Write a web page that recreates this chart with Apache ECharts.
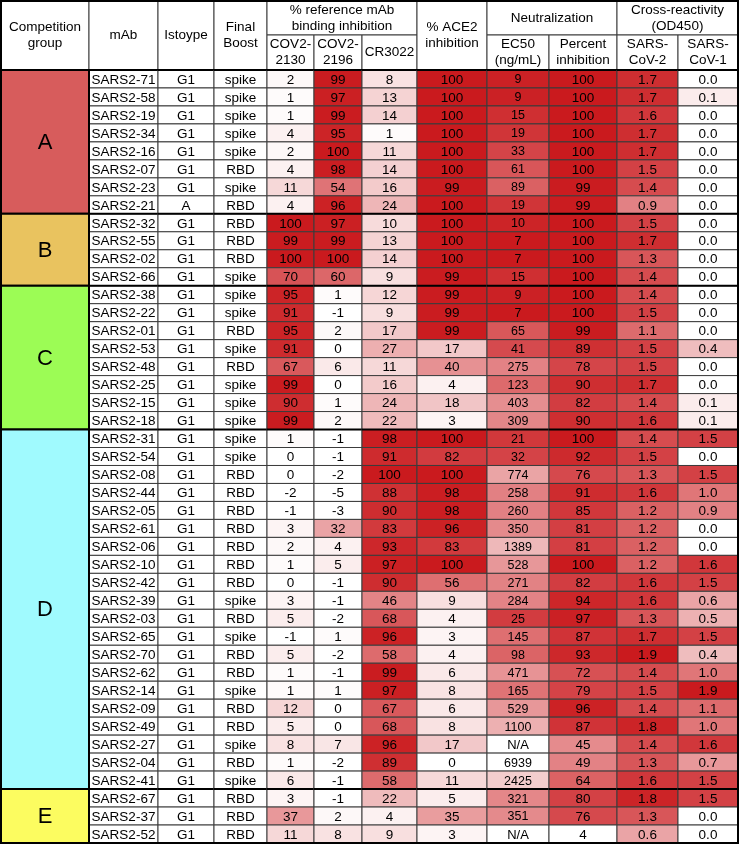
<!DOCTYPE html>
<html>
<head>
<meta charset="utf-8">
<script src="https://cdn.jsdelivr.net/npm/echarts@6/dist/echarts.min.js"></script>
<style>
html, body { margin: 0; padding: 0; background: #fff; }
#chart { width: 739px; height: 847px; }
</style>
</head>
<body>
<div id="chart"></div>
<script>
// ---- data ----
const groupNames = ['A', 'B', 'C', 'D', 'E'];
const groupSizes = [8, 4, 8, 20, 3];

const mAbs = [
  'SARS2-71', 'SARS2-58', 'SARS2-19', 'SARS2-34', 'SARS2-16', 'SARS2-07', 'SARS2-23', 'SARS2-21',
  'SARS2-32', 'SARS2-55', 'SARS2-02', 'SARS2-66',
  'SARS2-38', 'SARS2-22', 'SARS2-01', 'SARS2-53', 'SARS2-48', 'SARS2-25', 'SARS2-15', 'SARS2-18',
  'SARS2-31', 'SARS2-54', 'SARS2-08', 'SARS2-44', 'SARS2-05', 'SARS2-61', 'SARS2-06', 'SARS2-10',
  'SARS2-42', 'SARS2-39', 'SARS2-03', 'SARS2-65', 'SARS2-70', 'SARS2-62', 'SARS2-14', 'SARS2-09',
  'SARS2-49', 'SARS2-27', 'SARS2-04', 'SARS2-41',
  'SARS2-67', 'SARS2-37', 'SARS2-52'
];
const isotype = [
  'G1', 'G1', 'G1', 'G1', 'G1', 'G1', 'G1', 'A',
  'G1', 'G1', 'G1', 'G1',
  'G1', 'G1', 'G1', 'G1', 'G1', 'G1', 'G1', 'G1',
  'G1', 'G1', 'G1', 'G1', 'G1', 'G1', 'G1', 'G1', 'G1', 'G1',
  'G1', 'G1', 'G1', 'G1', 'G1', 'G1', 'G1', 'G1', 'G1', 'G1',
  'G1', 'G1', 'G1'
];
const finalBoost = [
  'spike', 'spike', 'spike', 'spike', 'spike', 'RBD', 'spike', 'RBD',
  'RBD', 'RBD', 'RBD', 'spike',
  'spike', 'spike', 'RBD', 'spike', 'RBD', 'spike', 'spike', 'spike',
  'spike', 'spike', 'RBD', 'RBD', 'RBD', 'RBD', 'RBD', 'RBD', 'RBD', 'spike',
  'RBD', 'spike', 'RBD', 'RBD', 'spike', 'RBD', 'RBD', 'spike', 'RBD', 'spike',
  'RBD', 'RBD', 'RBD'
];
const cov2130 = [
  2, 1, 1, 4, 2, 4, 11, 4,
  100, 99, 100, 70,
  95, 91, 95, 91, 67, 99, 90, 99,
  1, 0, 0, -2, -1, 3, 2, 1, 0, 3, 5, -1, 5, 1, 1, 12, 5, 8, 1, 6,
  3, 37, 11
];
const cov2196 = [
  99, 97, 99, 95, 100, 98, 54, 96,
  97, 99, 100, 60,
  1, -1, 2, 0, 6, 0, 1, 2,
  -1, -1, -2, -5, -3, 32, 4, 5, -1, -1, -2, 1, -2, -1, 1, 0, 0, 7, -2, -1,
  -1, 2, 8
];
const cr3022 = [
  8, 13, 14, 1, 11, 14, 16, 24,
  10, 13, 14, 9,
  12, 9, 17, 27, 11, 16, 24, 22,
  98, 91, 100, 88, 90, 83, 93, 97, 90, 46, 68, 96, 58, 99, 97, 67, 68, 96, 89, 58,
  22, 4, 9
];
const ace2 = [
  100, 100, 100, 100, 100, 100, 99, 100,
  100, 100, 100, 99,
  99, 99, 99, 17, 40, 4, 18, 3,
  100, 82, 100, 98, 98, 96, 83, 100, 56, 9, 4, 3, 4, 6, 8, 6, 8, 17, 0, 11,
  5, 35, 3
];
const ec50 = [
  9, 9, 15, 19, 33, 61, 89, 19,
  10, 7, 7, 15,
  9, 7, 65, 41, 275, 123, 403, 309,
  21, 32, 774, 258, 260, 350, 1389, 528, 271, 284, 25, 145, 98, 471, 165, 529, 1100, null, 6939, 2425,
  321, 351, null
];
const percentInhibition = [
  100, 100, 100, 100, 100, 100, 99, 99,
  100, 100, 100, 100,
  100, 100, 99, 89, 78, 90, 82, 90,
  100, 92, 76, 91, 85, 81, 81, 100, 82, 94, 97, 87, 93, 72, 79, 96, 87, 45, 49, 64,
  80, 76, 4
];
const sarsCov2 = [
  1.7, 1.7, 1.6, 1.7, 1.7, 1.5, 1.4, 0.9,
  1.5, 1.7, 1.3, 1.4,
  1.4, 1.5, 1.1, 1.5, 1.5, 1.7, 1.4, 1.6,
  1.4, 1.5, 1.3, 1.6, 1.2, 1.2, 1.2, 1.2, 1.6, 1.6, 1.3, 1.7, 1.9, 1.4, 1.5, 1.4, 1.8, 1.4, 1.3, 1.6,
  1.8, 1.3, 0.6
];
const sarsCov1 = [
  0.0, 0.1, 0.0, 0.0, 0.0, 0.0, 0.0, 0.0,
  0.0, 0.0, 0.0, 0.0,
  0.0, 0.0, 0.0, 0.4, 0.0, 0.0, 0.1, 0.1,
  1.5, 0.0, 1.5, 1.0, 0.9, 0.0, 0.0, 1.6, 1.5, 0.6, 0.5, 1.5, 0.4, 1.0, 1.9, 1.1, 1.0, 1.6, 0.7, 1.5,
  1.5, 0.0, 0.0
];

// ---- layout / style ----
const FONT = '"Liberation Sans", Arial, sans-serif';
const NARROW = '"Liberation Sans Narrow", "Liberation Sans", Arial, sans-serif';
const groupColors = ['#d75c5c', '#e9c35f', '#9cfc55', '#a0fafe', '#fcfc60'];
const colEdges = [1, 89, 158, 214, 267, 314, 362, 417, 487, 549, 617, 678, 738];
const headTop = 1, headMid = 35, headBottom = 70, tableBottom = 843;

function heat(f) {
  const g = Math.pow(f, 0.8);
  const r = Math.round(255 + g * (202 - 255));
  const gg = Math.round(255 + g * (26 - 255));
  const b = Math.round(255 + g * (30 - 255));
  return 'rgb(' + r + ',' + gg + ',' + b + ')';
}
const heatStops = [];
for (let i = 0; i <= 10; i++) heatStops.push(heat(i / 10));

const fmt1 = v => v.toFixed(1);
const columns = [
  { name: 'mAb', values: mAbs },
  { name: 'Istoype', values: isotype },
  { name: 'Final Boost', values: finalBoost },
  { name: 'COV2-2130', values: cov2130, min: 0, max: 100 },
  { name: 'COV2-2196', values: cov2196, min: 0, max: 100 },
  { name: 'CR3022', values: cr3022, min: 0, max: 100 },
  { name: 'ACE2', values: ace2, min: 0, max: 100 },
  { name: 'EC50', values: ec50, log: true, reverse: true, min: Math.log10(7), max: Math.log10(6939), font: '12.5px ' + NARROW },
  { name: 'Percent inhibition', values: percentInhibition, min: 4, max: 100 },
  { name: 'SARS-CoV-2', values: sarsCov2, min: 0, max: 1.9, format: fmt1 },
  { name: 'SARS-CoV-1', values: sarsCov1, min: 0, max: 1.9, format: fmt1 }
];

const groupStarts = [];
let acc = 0;
groupSizes.forEach(n => { groupStarts.push(acc); acc += n; });

const grids = [], xAxes = [], yAxes = [], series = [], visualMaps = [];

function addGrid(i, name) {
  grids.push({
    left: colEdges[i], top: headBottom,
    width: colEdges[i + 1] - colEdges[i], height: tableBottom - headBottom
  });
  xAxes.push({ gridIndex: i, type: 'category', data: [name], show: false });
  yAxes.push({ gridIndex: i, type: 'category', data: mAbs, inverse: true, show: false });
}

// group column
addGrid(0, 'Competition group');
series.push({
  type: 'custom',
  xAxisIndex: 0, yAxisIndex: 0,
  data: groupStarts.map(s => [0, s]),
  renderItem: function (params, api) {
    const n = groupSizes[params.dataIndex];
    const c = api.coord([0, api.value(1)]);
    const s = api.size([1, 1]);
    const x0 = c[0] - s[0] / 2, y0 = c[1] - s[1] / 2;
    return {
      type: 'group',
      children: [{
        type: 'rect',
        shape: { x: x0, y: y0, width: s[0], height: s[1] * n },
        style: { fill: groupColors[params.dataIndex], stroke: '#000', lineWidth: 2 }
      }, {
        type: 'text',
        style: {
          x: x0 + s[0] / 2, y: y0 + s[1] * n / 2 + 1,
          text: groupNames[params.dataIndex],
          align: 'center', verticalAlign: 'middle',
          font: '22px ' + FONT, fill: '#000'
        }
      }]
    };
  },
  z: 3
});

columns.forEach((col, k) => {
  const gi = k + 1;
  addGrid(gi, col.name);
  const numeric = col.min != null;
  const data = col.values.map((v, i) => [0, i, numeric ? (v == null ? NaN : (col.log ? Math.log10(v) : v)) : 0]);
  const seriesIndex = series.length;
  series.push({
    type: 'custom',
    name: col.name,
    xAxisIndex: gi, yAxisIndex: gi,
    data: data,
    renderItem: function (params, api) {
      const row = api.value(1);
      const c = api.coord([0, row]);
      const s = api.size([1, 1]);
      const x0 = c[0] - s[0] / 2, y0 = c[1] - s[1] / 2;
      const raw = col.values[params.dataIndex];
      const fill = numeric && raw != null ? api.visual('color') : '#ffffff';
      const text = raw == null ? 'N/A' : (col.format ? col.format(raw) : String(raw));
      const children = [{
        type: 'rect',
        shape: { x: x0, y: y0, width: s[0], height: s[1] },
        style: { fill: fill, stroke: '#3c3c3c', lineWidth: 1 }
      }, {
        type: 'text',
        style: {
          x: c[0], y: c[1] + 1, text: text,
          align: 'center', verticalAlign: 'middle',
          font: (raw == null ? '13px ' + FONT : (col.font || '13.5px ' + FONT)), fill: '#000'
        }
      }];
      if (groupStarts.indexOf(row) >= 0) {
        children.push({
          type: 'line',
          shape: { x1: x0, y1: y0, x2: x0 + s[0], y2: y0 },
          style: { stroke: '#000', lineWidth: 2 }
        });
      }
      return { type: 'group', children: children };
    },
    z: 2
  });
  if (numeric) {
    visualMaps.push({
      type: 'continuous', show: false,
      seriesIndex: seriesIndex, dimension: 2,
      min: col.min, max: col.max,
      inRange: { color: col.reverse ? heatStops.slice().reverse() : heatStops },
      outOfRange: { color: ['#ffffff'] }
    });
  }
});

// header cells: [firstCol, lastCol, tier, text]
const headerCells = [
  [0, 0, 'full', 'Competition\ngroup'],
  [1, 1, 'full', 'mAb'],
  [2, 2, 'full', 'Istoype'],
  [3, 3, 'full', 'Final\nBoost'],
  [4, 6, 'top', '% reference mAb\nbinding inhibition'],
  [4, 4, 'bottom', 'COV2-\n2130'],
  [5, 5, 'bottom', 'COV2-\n2196'],
  [6, 6, 'bottom', 'CR3022'],
  [7, 7, 'full', '% ACE2\ninhibition'],
  [8, 9, 'top', 'Neutralization'],
  [8, 8, 'bottom', 'EC50\n(ng/mL)'],
  [9, 9, 'bottom', 'Percent\ninhibition'],
  [10, 11, 'top', 'Cross-reactivity\n(OD450)'],
  [10, 10, 'bottom', 'SARS-\nCoV-2'],
  [11, 11, 'bottom', 'SARS-\nCoV-1']
];
const graphics = headerCells.map(h => {
  const y0 = h[2] === 'bottom' ? headMid : headTop;
  const y1 = h[2] === 'top' ? headMid : headBottom;
  return {
    type: 'rect',
    shape: { x: colEdges[h[0]], y: y0, width: colEdges[h[1] + 1] - colEdges[h[0]], height: y1 - y0 },
    style: { fill: '#fff', stroke: '#3c3c3c', lineWidth: 1 },
    textContent: {
      style: { text: h[3], font: '13.5px ' + FONT, fill: '#000', align: 'center', lineHeight: 16 }
    },
    textConfig: { position: 'inside' }
  };
});
graphics.push({
  type: 'rect',
  shape: { x: colEdges[0], y: headTop, width: colEdges[colEdges.length - 1] - colEdges[0], height: tableBottom - headTop },
  style: { fill: 'none', stroke: '#000', lineWidth: 2 },
  z: 100
});

const chart = echarts.init(document.getElementById('chart'));
chart.setOption({
  animation: false,
  backgroundColor: '#ffffff',
  grid: grids,
  xAxis: xAxes,
  yAxis: yAxes,
  visualMap: visualMaps,
  graphic: graphics,
  series: series
});
</script>
</body>
</html>
